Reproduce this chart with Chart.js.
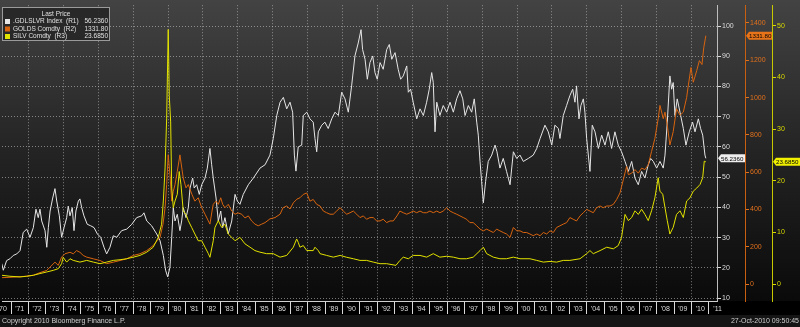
<!DOCTYPE html>
<html>
<head>
<meta charset="utf-8">
<title>Gold / Silver ratio</title>
<script src="https://cdn.jsdelivr.net/npm/chart.js@4.4.1/dist/chart.umd.min.js"></script>
<style>
  html, body { margin: 0; padding: 0; background: #000; overflow: hidden; }
  #chart { display: block; width: 800px; height: 327px; }
</style>
</head>
<body>
<canvas id="chart" width="800" height="327"></canvas>
<script>
// ── Data ─────────────────────────────────────────────────────
const yearTicks  = [1970,1971,1972,1973,1974,1975,1976,1977,1978,1979,1980,1981,1982,1983,1984,1985,1986,1987,1988,1989,1990,
                    1991,1992,1993,1994,1995,1996,1997,1998,1999,2000,2001,2002,2003,2004,2005,2006,2007,2008,2009,2010,2011];
const yearLabels = ["'70","'71","'72","'73","'74","'75","'76","'77","'78","'79","'80","'81","'82","'83","'84","'85","'86","'87","'88","'89","'90",
                    "'91","'92","'93","'94","'95","'96","'97","'98","'99","'00","'01","'02","'03","'04","'05","'06","'07","'08","'09","'10","'11"];
const r1Ticks = [10, 20, 30, 40, 50, 60, 70, 80, 90, 100];
const r2Ticks = [0, 200, 400, 600, 800, 1000, 1200, 1400];
const r3Ticks = [0, 10, 20, 30, 40, 50];

// .GDLSLVR Index (R1)
const ratioYears = [1970.47,1970.56,1970.75,1970.94,1971.13,1971.33,1971.52,1971.70,1971.90,1972.09,1972.28,1972.43,1972.56,1972.66,1972.76,1972.95,
  1973.05,1973.14,1973.24,1973.39,1973.52,1973.62,1973.77,1973.90,1974.04,1974.19,1974.28,1974.38,1974.51,1974.61,1974.72,1974.86,1974.95,
  1975.05,1975.18,1975.37,1975.57,1975.76,1975.95,1976.14,1976.33,1976.48,1976.67,1976.86,1977.06,1977.34,1977.63,1977.92,1978.20,1978.49,
  1978.62,1978.78,1979.06,1979.35,1979.54,1979.73,1979.86,1979.98,1980.11,1980.21,1980.30,1980.40,1980.53,1980.68,1980.78,1980.87,1981.03,
  1981.16,1981.26,1981.41,1981.50,1981.64,1981.79,1981.93,1982.12,1982.25,1982.40,1982.50,1982.59,1982.75,1982.88,1983.02,1983.13,1983.26,
  1983.45,1983.65,1983.84,1983.97,1984.12,1984.31,1984.60,1984.89,1985.27,1985.56,1985.84,1986.03,1986.23,1986.42,1986.61,1986.80,1986.99,
  1987.14,1987.24,1987.33,1987.46,1987.66,1987.75,1987.95,1988.13,1988.32,1988.42,1988.52,1988.61,1988.81,1988.99,1989.18,1989.38,1989.57,
  1989.76,1989.95,1990.14,1990.33,1990.52,1990.71,1990.90,1991.06,1991.15,1991.29,1991.42,1991.57,1991.73,1991.86,1991.99,1992.15,1992.33,
  1992.53,1992.68,1992.82,1993.01,1993.19,1993.33,1993.48,1993.68,1993.77,1993.90,1994.05,1994.25,1994.44,1994.63,1994.82,1994.97,1995.11,
  1995.20,1995.30,1995.40,1995.58,1995.77,1995.97,1996.16,1996.35,1996.54,1996.73,1996.89,1997.02,1997.21,1997.40,1997.55,1997.69,1997.78,
  1997.88,1997.97,1998.07,1998.20,1998.35,1998.55,1998.74,1998.85,1999.02,1999.21,1999.40,1999.60,1999.79,1999.98,2000.17,2000.36,2000.65,
  2000.93,2001.13,2001.32,2001.60,2001.79,2001.99,2002.17,2002.37,2002.46,2002.65,2002.84,2003.03,2003.19,2003.32,2003.41,2003.55,2003.66,
  2003.80,2003.89,2003.99,2004.18,2004.31,2004.47,2004.66,2004.85,2005.04,2005.23,2005.42,2005.61,2005.80,2005.99,2006.19,2006.38,2006.57,
  2006.76,2006.95,2007.14,2007.33,2007.52,2007.66,2007.81,2008.00,2008.19,2008.38,2008.48,2008.61,2008.76,2008.86,2008.95,2009.05,2009.18,
  2009.34,2009.53,2009.68,2009.87,2010.06,2010.20,2010.39,2010.52,2010.64,2010.77,2010.82];
const ratioValues = [21.4,19.2,22.4,23.0,24.1,24.6,25.7,31.7,32.8,30.1,33.3,39.4,36.6,39.4,35.5,32.3,
  26.8,33.3,38.8,43.1,46.2,42.1,37.2,30.1,33.3,36.6,40.4,37.2,39.9,32.3,38.8,42.1,42.8,
  39.9,37.2,34.4,33.9,33.3,31.2,30.1,26.8,24.6,26.8,30.6,30.1,32.3,32.8,34.4,36.6,37.2,
  38.2,35.5,33.9,31.2,29.0,24.1,19.2,17.0,20.2,30.1,39.9,35.5,37.7,32.3,35.5,39.9,36.6,
  39.9,46.4,49.7,46.4,47.5,44.3,47.5,49.7,53.0,59.5,54.1,49.7,43.1,35.5,38.8,33.3,36.6,
  31.2,35.5,44.3,42.1,41.0,44.3,47.5,49.7,53.0,54.1,57.3,62.8,70.4,74.8,76.4,72.6,74.8,
  71.5,57.3,52.0,60.0,60.6,70.4,71.5,69.3,68.2,62.8,58.4,65.0,67.2,68.2,66.1,69.3,71.5,
  70.4,78.1,75.9,71.5,80.2,90.1,94.4,98.8,92.2,89.0,82.4,87.9,90.1,84.6,82.4,87.9,85.7,
  92.2,93.9,89.0,91.2,85.7,82.4,83.5,86.8,78.1,79.1,74.8,69.3,72.6,70.4,74.8,79.1,84.6,
  81.3,65.0,74.8,70.4,73.7,71.5,74.8,71.5,75.9,78.6,75.9,70.4,73.7,71.5,75.9,68.2,63.9,
  55.2,48.6,41.5,48.6,55.2,57.3,60.6,58.4,53.0,56.2,51.9,47.5,58.4,56.2,57.3,55.2,56.2,
  57.3,59.5,62.8,67.2,65.0,60.6,67.2,66.1,62.8,70.4,73.7,77.0,79.1,74.8,80.2,69.3,73.7,
  75.9,71.5,62.8,51.9,67.2,65.0,59.5,63.9,60.6,65.0,59.5,65.0,60.6,58.4,55.2,51.9,55.2,
  49.7,47.5,51.9,49.7,54.1,56.2,55.2,53.0,55.2,53.0,57.3,68.2,83.5,79.1,81.3,70.4,75.9,
  71.5,66.1,60.6,65.0,68.2,65.0,69.3,66.1,63.9,57.3,56.236];

// GOLDS Comdty (R2)
const goldYears = [1970.47,1970.94,1971.52,1971.90,1972.28,1972.66,1973.05,1973.24,1973.52,1973.71,1973.90,1974.09,1974.38,1974.57,1974.76,
  1974.95,1975.14,1975.34,1975.72,1976.10,1976.48,1976.86,1977.25,1977.63,1978.01,1978.39,1978.78,1979.15,1979.37,1979.54,1979.71,1979.83,
  1979.92,1980.01,1980.11,1980.21,1980.30,1980.40,1980.53,1980.68,1980.87,1981.03,1981.16,1981.37,1981.54,1981.73,1981.93,1982.12,1982.31,
  1982.40,1982.52,1982.59,1982.75,1982.88,1983.02,1983.13,1983.26,1983.45,1983.65,1983.84,1984.01,1984.22,1984.41,1984.60,1984.79,1984.98,
  1985.17,1985.37,1985.56,1985.84,1986.13,1986.42,1986.59,1986.80,1986.99,1987.18,1987.39,1987.56,1987.75,1987.95,1988.13,1988.32,1988.52,
  1988.71,1988.90,1989.09,1989.28,1989.47,1989.66,1989.86,1990.04,1990.24,1990.43,1990.62,1990.81,1991.00,1991.19,1991.38,1991.57,1991.76,
  1991.96,1992.15,1992.33,1992.53,1992.72,1992.91,1993.12,1993.29,1993.48,1993.68,1993.87,1994.05,1994.25,1994.44,1994.63,1994.82,1995.01,
  1995.20,1995.40,1995.58,1995.77,1995.97,1996.16,1996.35,1996.54,1996.73,1996.92,1997.11,1997.30,1997.49,1997.69,1997.88,1998.07,1998.26,
  1998.45,1998.64,1998.83,1999.02,1999.21,1999.40,1999.60,1999.79,1999.98,2000.17,2000.36,2000.55,2000.74,2000.93,2001.13,2001.32,2001.51,
  2001.70,2001.89,2002.08,2002.27,2002.46,2002.65,2002.84,2003.03,2003.22,2003.41,2003.61,2003.80,2003.99,2004.18,2004.37,2004.56,2004.76,
  2004.94,2005.14,2005.33,2005.52,2005.71,2005.90,2006.09,2006.28,2006.38,2006.57,2006.76,2006.95,2007.14,2007.33,2007.52,2007.71,2007.90,
  2008.09,2008.19,2008.38,2008.48,2008.61,2008.76,2008.95,2009.14,2009.34,2009.53,2009.72,2009.80,2009.97,2010.10,2010.30,2010.45,2010.60,
  2010.70,2010.82];
const goldValues = [35,37,40,43,48,62,74,92,118,101,145,163,171,163,180,
  171,154,145,136,127,110,118,127,136,154,163,180,207,233,251,322,410,
  534,694,587,445,498,534,604,693,569,516,534,481,445,463,410,375,339,
  322,392,428,445,428,463,428,410,428,392,375,382,375,355,366,339,322,
  313,322,330,350,357,375,410,419,403,436,456,463,481,489,445,454,428,
  419,392,383,375,375,392,410,392,375,383,392,375,357,366,348,357,357,
  339,339,348,330,339,339,366,392,383,375,383,392,383,392,383,383,392,
  383,392,383,392,410,392,383,375,366,357,348,330,330,313,295,286,295,
  286,277,295,286,277,269,251,304,286,286,277,277,269,260,269,260,277,
  269,286,277,304,313,322,330,357,348,339,366,383,401,392,383,410,419,
  410,419,419,428,454,489,560,631,587,595,614,595,622,614,640,711,781,
  887,958,887,922,852,746,817,940,905,922,1000,1055,1161,1082,1145,1198,1177,
  1267,1331.8];

// SILV Comdty (R3)
const silverYears = [1970.47,1970.94,1971.52,1971.90,1972.28,1972.66,1973.05,1973.43,1973.71,1973.90,1973.99,1974.19,1974.38,1974.57,1974.95,
  1975.34,1975.72,1976.10,1976.48,1976.86,1977.25,1977.63,1978.01,1978.39,1978.78,1979.15,1979.44,1979.63,1979.73,1979.83,1979.92,1980.01,
  1980.07,1980.15,1980.21,1980.30,1980.40,1980.53,1980.64,1980.74,1980.87,1981.03,1981.16,1981.35,1981.54,1981.73,1981.93,1982.12,1982.31,
  1982.40,1982.59,1982.69,1982.88,1983.07,1983.26,1983.45,1983.65,1983.84,1984.12,1984.41,1984.70,1984.98,1985.27,1985.65,1986.03,1986.42,
  1986.80,1987.18,1987.37,1987.46,1987.56,1987.75,1987.95,1988.32,1988.42,1988.61,1988.71,1989.09,1989.47,1989.86,1990.24,1990.62,1991.00,
  1991.38,1991.76,1992.15,1992.53,1993.06,1993.29,1993.48,1993.77,1994.05,1994.44,1994.82,1995.20,1995.58,1995.97,1996.35,1996.73,1997.11,
  1997.49,1997.88,1998.07,1998.26,1998.64,1999.02,1999.40,1999.79,2000.17,2000.74,2001.13,2001.51,2001.89,2002.27,2002.65,2003.03,2003.61,
  2003.99,2004.18,2004.37,2004.76,2005.14,2005.52,2005.80,2005.99,2006.19,2006.38,2006.57,2006.76,2006.95,2007.14,2007.33,2007.52,2007.71,
  2007.90,2008.09,2008.19,2008.35,2008.48,2008.61,2008.76,2008.95,2009.14,2009.34,2009.53,2009.72,2009.91,2010.10,2010.30,2010.49,2010.64,
  2010.73,2010.82];
const silverValues = [1.72,1.53,1.40,1.53,1.72,2.05,2.36,2.68,3.0,3.96,5.2,4.27,4.92,4.6,4.27,
  4.6,4.27,3.96,4.27,4.6,4.73,4.92,5.23,5.56,6.19,7.15,9.06,11.6,16.1,22.5,32.0,49.3,
  36.5,31.4,18.6,14.8,16.1,17.4,21.8,19.3,14.2,13.5,12.3,11.0,9.7,8.4,8.4,7.15,5.9,
  5.2,8.4,11.0,12.3,11.0,11.6,9.7,9.06,8.4,9.06,7.8,7.15,6.5,6.19,5.9,5.9,5.23,
  5.56,7.15,8.75,8.1,7.15,7.47,6.5,6.5,7.15,6.5,5.9,5.56,5.23,5.56,5.2,4.92,4.6,
  4.6,4.27,3.96,3.96,3.64,4.6,5.23,4.92,5.56,5.56,5.23,5.9,5.23,5.4,5.23,4.92,4.92,
  5.23,6.5,7.15,5.9,5.23,4.92,4.92,5.23,4.92,4.92,4.6,4.27,4.4,4.27,4.6,4.6,4.92,
  5.9,6.5,5.9,6.5,7.15,6.84,7.47,9.06,13.5,12.3,12.9,14.2,13.5,14.5,13.5,12.3,14.2,
  16.7,20.6,18.0,17.4,14.8,12.3,9.7,11.0,13.5,14.2,12.9,16.1,16.7,18.0,18.6,19.3,20.6,
  23.8,23.685];

// ── Style constants ──────────────────────────────────────────
const FONT      = "'Liberation Sans', Arial, sans-serif";
const GRID      = 'rgba(205,205,205,0.55)';
const C_RATIO   = '#e6e6e6';
const C_GOLD    = '#d8640f';
const C_SILVER  = '#e2e200';

const toPoints = (xs, ys) => xs.map((x, i) => ({ x, y: ys[i] }));
const lastOf   = arr => arr[arr.length - 1];

// ── Background bands ─────────────────────────────────────────
const backdrop = {
  id: 'backdrop',
  beforeDraw(chart) {
    const { ctx, chartArea: a, width, height } = chart;
    ctx.save();
    const g = ctx.createLinearGradient(0, 0, 0, a.bottom);
    g.addColorStop(0, '#434343');
    g.addColorStop(0.5, '#242424');
    g.addColorStop(1, '#0a0a0a');
    ctx.fillStyle = g;
    ctx.fillRect(0, 0, width, a.bottom);
    ctx.fillStyle = '#000';
    ctx.fillRect(0, a.bottom, width, 14);
    ctx.fillStyle = '#151515';
    ctx.fillRect(0, a.bottom + 14, width, height - a.bottom - 14);
    ctx.restore();
  }
};

// ── Legend box, last-price tags, footer ──────────────────────
function tag(ctx, x0, x1, y, fill, text) {
  ctx.beginPath();
  ctx.moveTo(x0, y);
  ctx.lineTo(x0 + 3, y - 4);
  ctx.lineTo(x1, y - 4);
  ctx.lineTo(x1, y + 4);
  ctx.lineTo(x0 + 3, y + 4);
  ctx.closePath();
  ctx.fillStyle = fill;
  ctx.fill();
  ctx.fillStyle = '#000';
  ctx.font = `6.2px ${FONT}`;
  ctx.textAlign = 'left';
  ctx.textBaseline = 'middle';
  ctx.fillText(text, x0 + 3, y + 0.5);
}

const overlay = {
  id: 'overlay',
  afterDraw(chart) {
    const { ctx, scales, width, chartArea: a } = chart;
    ctx.save();

    // legend
    ctx.fillStyle = 'rgba(38,38,38,0.9)';
    ctx.fillRect(2, 7, 108, 34);
    ctx.strokeStyle = '#9a9a9a';
    ctx.lineWidth = 1;
    ctx.strokeRect(2.5, 7.5, 107, 33);
    ctx.font = `6.5px ${FONT}`;
    ctx.fillStyle = '#e0e0e0';
    ctx.textBaseline = 'middle';
    ctx.textAlign = 'center';
    ctx.fillText('Last Price', 56, 14);
    const rows = [
      [C_RATIO,  '.GDLSLVR Index  (R1)', lastOf(ratioValues).toFixed(4)],
      [C_GOLD,   'GOLDS Comdty  (R2)',   lastOf(goldValues).toFixed(2)],
      [C_SILVER, 'SILV Comdty  (R3)',    lastOf(silverValues).toFixed(4)],
    ];
    rows.forEach(([c, name, val], i) => {
      const y = 21.5 + i * 7.5;
      ctx.fillStyle = c;
      ctx.fillRect(5, y - 2.5, 5, 5);
      ctx.fillStyle = '#e0e0e0';
      ctx.textAlign = 'left';
      ctx.fillText(name, 13, y);
      ctx.textAlign = 'right';
      ctx.fillText(val, 108, y);
    });

    // last-price tags on each axis
    const { y1, y2, y3 } = scales;
    tag(ctx, y1.left + 1, y1.right, y1.getPixelForValue(lastOf(ratioValues)), '#eeeeee', lastOf(ratioValues).toFixed(4));
    tag(ctx, y2.left + 1, y2.right, y2.getPixelForValue(lastOf(goldValues)), '#e8741a', lastOf(goldValues).toFixed(2));
    tag(ctx, y3.left + 1, width, y3.getPixelForValue(lastOf(silverValues)), '#f0f000', lastOf(silverValues).toFixed(4));

    // footer
    ctx.font = `7px ${FONT}`;
    ctx.fillStyle = '#cfcfcf';
    ctx.textBaseline = 'middle';
    ctx.textAlign = 'left';
    ctx.fillText('Copyright 2010 Bloomberg Finance L.P.', 2, a.bottom + 20);
    ctx.textAlign = 'right';
    ctx.fillText('27-Oct-2010 09:50:45', width - 1, a.bottom + 20);
    ctx.restore();
  }
};

const yAxis = (ticksArr, min, max, weight, color, lineColor, onArea, w) => ({
  type: 'linear',
  position: 'right',
  weight,
  min, max,
  afterBuildTicks: s => { s.ticks = ticksArr.map(v => ({ value: v })); },
  afterFit: s => { s.width = w; },
  grid: {
    drawOnChartArea: onArea,
    color: GRID,
    lineWidth: 1,
    tickLength: 4,
    tickColor: color,
    tickBorderDash: [],
  },
  border: { color: lineColor, width: 1, dash: [1, 2] },
  ticks: { color, padding: 1, font: { size: 7, family: FONT }, callback: v => String(v) },
});

new Chart(document.getElementById('chart').getContext('2d'), {
  type: 'line',
  data: {
    datasets: [
      { label: '.GDLSLVR Index', data: toPoints(ratioYears, ratioValues), yAxisID: 'y1',
        borderColor: C_RATIO, borderWidth: 1, pointRadius: 0, tension: 0, order: 2 },
      { label: 'GOLDS Comdty', data: toPoints(goldYears, goldValues), yAxisID: 'y2',
        borderColor: C_GOLD, borderWidth: 1, pointRadius: 0, tension: 0, order: 1 },
      { label: 'SILV Comdty', data: toPoints(silverYears, silverValues), yAxisID: 'y3',
        borderColor: C_SILVER, borderWidth: 1, pointRadius: 0, tension: 0, order: 0 },
    ]
  },
  options: {
    responsive: false,
    animation: false,
    devicePixelRatio: 1,
    layout: { padding: { left: 2, top: 2, right: 0, bottom: 12 } },
    plugins: { legend: { display: false }, tooltip: { enabled: false } },
    scales: {
      x: {
        type: 'linear',
        position: 'bottom',
        min: 1970.484,
        max: 2011.46,
        afterBuildTicks: s => { s.ticks = yearTicks.map(v => ({ value: v })); },
        afterFit: s => { s.height = 14; s.paddingLeft = 0; s.paddingRight = 0; },
        grid: {
          color: c => (c.tick && c.tick.value % 2 === 0) ? GRID : 'rgba(0,0,0,0)',
          lineWidth: 1,
          tickLength: 13,
          tickColor: '#d8d8d8',
          tickBorderDash: [],
        },
        border: { color: '#cfcfcf', width: 1, dash: [1, 2] },
        ticks: {
          autoSkip: false,
          maxRotation: 0,
          minRotation: 0,
          padding: -9,
          labelOffset: 8.7,
          color: '#dcdcdc',
          font: { size: 7, family: FONT },
          callback: v => yearLabels[yearTicks.indexOf(v)],
        },
      },
      y1: yAxis(r1Ticks, 9.02, 106.9, 0, '#dcdcdc', '#bdbdbd', true, 28),
      y2: yAxis(r2Ticks, -90, 1495, 1, '#e0701c', '#c8600f', false, 27),
      y3: yAxis(r3Ticks, -3.26, 54.0, 2, '#d8d800', '#c8c800', false, 28),
    }
  },
  plugins: [backdrop, overlay]
});
</script>
</body>
</html>
